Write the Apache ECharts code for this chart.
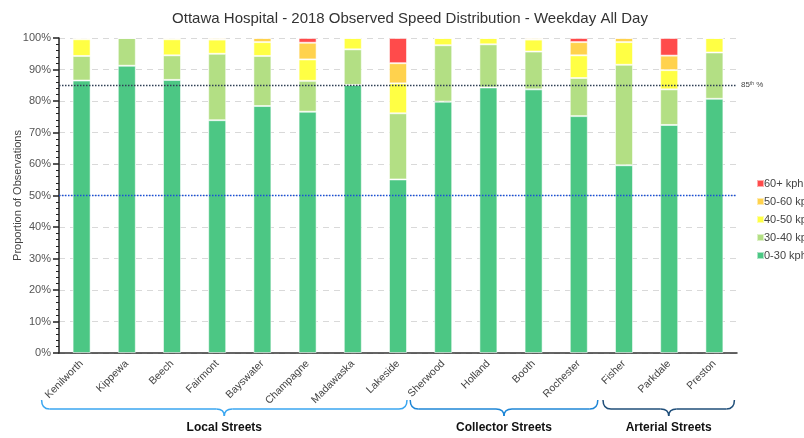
<!DOCTYPE html>
<html>
<head>
<meta charset="utf-8">
<script src="https://cdn.jsdelivr.net/npm/echarts@6/dist/echarts.min.js"></script>
<style>
  html, body { margin: 0; padding: 0; background: #fff; }
  #chart { width: 804px; height: 438px; }
</style>
</head>
<body>
<div id="chart"></div>
<script>
// Streets, in display order
const streets = ['Kenilworth', 'Kippewa', 'Beech', 'Fairmont', 'Bayswater', 'Champagne', 'Madawaska', 'Lakeside',
                 'Sherwood', 'Holland', 'Booth', 'Rochester', 'Fisher', 'Parkdale', 'Preston'];

// Share of observations (%) in each speed band
const speed0to30  = [86.5, 91.2, 86.7, 73.9, 78.4, 76.6, 85.1, 55.1, 79.8, 84.3, 83.7, 75.2, 59.6, 72.4, 80.7];
const speed30to40 = [7.8, 8.8, 7.8, 21.1, 15.9, 9.8, 11.3, 21.0, 17.9, 13.7, 12.0, 12.1, 31.9, 11.3, 14.7];
const speed40to50 = [5.3, 0, 5.1, 4.5, 4.4, 6.8, 3.6, 9.5, 2.3, 2.0, 3.8, 7.2, 7.2, 6.1, 4.6];
const speed50to60 = [0.4, 0, 0.4, 0.5, 1.3, 5.3, 0, 6.4, 0, 0, 0.5, 4.2, 1.3, 4.6, 0];
const speed60plus = [0, 0, 0, 0, 0, 1.5, 0, 8.0, 0, 0, 0, 1.3, 0, 5.6, 0];

const bandNames = ['0-30 kph', '30-40 kph', '40-50 kph', '50-60 kph', '60+ kph'];
const bandColors = ['#4cc784', '#b3df84', '#ffff44', '#ffd24d', '#ff4b4b'];

// Street groups: first and last street index of each bracket
const groupNames = ['Local Streets', 'Collector Streets', 'Arterial Streets'];
const groupFirst = [0, 8, 12];
const groupLast = [7, 11, 14];

// Reference levels (%)
const pct85 = 85;
const pct50 = 50;

const chart = echarts.init(document.getElementById('chart'), null, { renderer: 'canvas' });
const font = '"Liberation Sans", Arial, sans-serif';

const bandData = [speed0to30, speed30to40, speed40to50, speed50to60, speed60plus];
const series = bandData.map((d, i) => ({
  name: bandNames[i],
  type: 'bar',
  stack: 'total',
  barWidth: 18,
  data: d,
  itemStyle: { color: bandColors[i], borderColor: 'rgba(255,255,255,0.55)', borderWidth: 1 },
  emphasis: { disabled: true }
}));

series[0].markLine = {
  silent: true,
  symbol: 'none',
  data: [
    {
      yAxis: pct85,
      lineStyle: { color: '#2f3f55', type: [1.5, 1.5], width: 1.3 },
      label: {
        show: true,
        position: 'end',
        distance: 4,
        formatter: '{a|85}{s|th}{a| %}',
        rich: {
          a: { fontSize: 8, color: '#444', fontFamily: font },
          s: { fontSize: 5, color: '#444', fontFamily: font, verticalAlign: 'top', padding: [0, 0, 4, 0] }
        }
      }
    },
    {
      yAxis: pct50,
      lineStyle: { color: '#1a4fd6', type: [1.5, 1.5], width: 1.3 },
      label: { show: false }
    }
  ]
};

chart.setOption({
  animation: false,
  backgroundColor: '#fff',
  title: {
    text: 'Ottawa Hospital - 2018 Observed Speed Distribution - Weekday All Day',
    left: 405,
    textAlign: 'center',
    top: 6,
    textStyle: { fontSize: 15, fontWeight: 'normal', color: '#333', fontFamily: font }
  },
  legend: {
    orient: 'vertical',
    left: 751,
    top: 173,
    itemWidth: 7,
    itemHeight: 7,
    itemGap: 7,
    icon: 'rect',
    data: ['60+ kph', '50-60 kph', '40-50 kph', '30-40 kph', '0-30 kph'],
    textStyle: { fontSize: 11, color: '#444', fontFamily: font, padding: [0, 0, 0, -5] }
  },
  grid: { left: 59, right: 67, top: 38, bottom: 85, containLabel: false, outerBoundsMode: 'none' },
  xAxis: {
    type: 'category',
    data: streets,
    axisLine: { show: true, lineStyle: { color: '#333', width: 1.5 } },
    axisTick: { show: false },
    axisLabel: { rotate: 45, fontSize: 10.5, color: '#444', margin: 9, interval: 0, fontFamily: font }
  },
  yAxis: {
    type: 'value',
    min: 0,
    max: 100,
    interval: 10,
    name: 'Proportion of Observations',
    nameLocation: 'middle',
    nameGap: 36,
    nameMoveOverlap: false,
    nameTextStyle: { fontSize: 11, color: '#444', fontFamily: font },
    axisLine: { show: true, lineStyle: { color: '#222', width: 1.5 } },
    axisTick: { show: true, length: 6, lineStyle: { color: '#222', width: 1.5 } },
    minorTick: { show: true, splitNumber: 5, length: 3, lineStyle: { color: '#222', width: 1 } },
    axisLabel: { formatter: '{value}%', fontSize: 11, color: '#555', margin: 8, fontFamily: font },
    splitLine: { show: true, lineStyle: { color: '#d9d9d9', type: [6, 5], width: 1.2 } }
  },
  series: series
});

// Curly brackets grouping the streets below the axis labels
const braceColors = ['#3aa6f0', '#1e86d6', '#1f4e79'];
const leftPad = [40, 33, 21];
const rightPad = [9, 19, 20];
const yTop = 400, yMid = 409, yTip = 416;
const r = 8;
const elements = [];
groupNames.forEach((name, g) => {
  const xa = chart.convertToPixel({ xAxisIndex: 0 }, groupFirst[g]) - leftPad[g];
  const xb = chart.convertToPixel({ xAxisIndex: 0 }, groupLast[g]) + rightPad[g];
  const tip = (xa + xb) / 2;
  const style = { stroke: braceColors[g], lineWidth: 1.5, fill: null };
  const curve = (x1, y1, cx, cy, x2, y2) => ({
    type: 'bezierCurve', silent: true,
    shape: { x1: x1, y1: y1, cpx1: cx, cpy1: cy, x2: x2, y2: y2 },
    style: style
  });
  const seg = (x1, x2) => ({
    type: 'line', silent: true,
    shape: { x1: x1, y1: yMid, x2: x2, y2: yMid },
    style: style
  });
  elements.push(curve(xa, yTop, xa, yMid, xa + r, yMid));
  elements.push(seg(xa + r, tip - r));
  elements.push(curve(tip - r, yMid, tip, yMid, tip, yTip));
  elements.push(curve(tip, yTip, tip, yMid, tip + r, yMid));
  elements.push(seg(tip + r, xb - r));
  elements.push(curve(xb - r, yMid, xb, yMid, xb, yTop));
  elements.push({
    type: 'text',
    x: tip,
    y: 428,
    style: {
      text: name,
      fontSize: 12,
      fontWeight: 'bold',
      fill: '#111',
      fontFamily: font,
      align: 'center',
      verticalAlign: 'middle'
    }
  });
});
chart.setOption({ graphic: { elements: elements } });
</script>
</body>
</html>
